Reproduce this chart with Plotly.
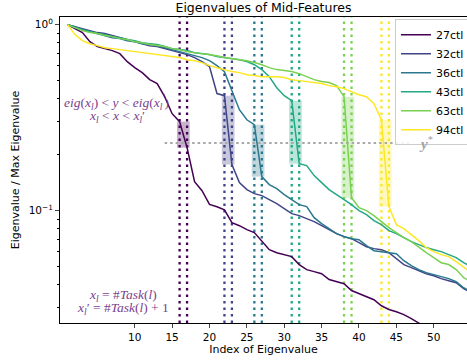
import math
import plotly.graph_objects as go

index = list(range(1, 56))
labels = ["27ctl", "32ctl", "36ctl", "43ctl", "63ctl", "94ctl"]
colors = ["#440154", "#414487", "#2a788e", "#22a884", "#7ad151", "#fde725"]
task_counts = [16, 22, 26, 31, 38, 43]
y_star = 0.231
x_ticks = [10, 15, 20, 25, 30, 35, 40, 45, 50]

ev_27 = [1.0, 0.952, 0.906, 0.810, 0.762, 0.743, 0.725, 0.698, 0.632, 0.587,
         0.552, 0.506, 0.482, 0.410, 0.332, 0.301, 0.218, 0.143, 0.128, 0.108,
         0.105, 0.101, 0.0862, 0.0830, 0.0790, 0.0762, 0.0690, 0.0617, 0.0594, 0.0580,
         0.0566, 0.0513, 0.0482, 0.0470, 0.0458, 0.0426, 0.0415, 0.0405, 0.0372, 0.0358,
         0.0345, 0.0332, 0.0308, 0.0294, 0.0286, 0.0276, 0.0263, 0.0247, 0.0235]
ev_32 = [1.0, 0.976, 0.952, 0.928, 0.906, 0.895, 0.873, 0.851, 0.831, 0.810,
         0.790, 0.771, 0.762, 0.743, 0.725, 0.707, 0.690, 0.665, 0.633, 0.595,
         0.426, 0.415, 0.1768, 0.1415, 0.1297, 0.1234, 0.1204, 0.1146, 0.1090, 0.1025,
         0.0964, 0.0940, 0.0906, 0.0873, 0.0831, 0.0790, 0.0752, 0.0725, 0.0707, 0.0673,
         0.0640, 0.0625, 0.0617, 0.0594, 0.0552, 0.0513, 0.0494, 0.0476, 0.0458, 0.0447,
         0.0431, 0.0420, 0.0410, 0.0381, 0.0362]
ev_36 = [1.0, 0.976, 0.940, 0.917, 0.895, 0.873, 0.851, 0.841, 0.820, 0.810,
         0.790, 0.781, 0.771, 0.752, 0.734, 0.716, 0.698, 0.681, 0.665, 0.640,
         0.602, 0.559, 0.447, 0.349, 0.308, 0.290, 0.1524, 0.1380, 0.1313, 0.1219,
         0.1146, 0.1077, 0.1051, 0.0917, 0.0851, 0.0800, 0.0752, 0.0725, 0.0707, 0.0698,
         0.0648, 0.0609, 0.0602, 0.0594, 0.0587, 0.0538, 0.0506, 0.0482, 0.0464, 0.0453,
         0.0442, 0.0431, 0.0415, 0.0385, 0.0367]
ev_43 = [1.0, 0.964, 0.940, 0.917, 0.895, 0.884, 0.862, 0.851, 0.831, 0.820,
         0.800, 0.790, 0.781, 0.762, 0.743, 0.734, 0.725, 0.707, 0.698, 0.690,
         0.673, 0.665, 0.656, 0.648, 0.633, 0.609, 0.573, 0.525, 0.458, 0.415,
         0.390, 0.179, 0.1746, 0.1543, 0.1415, 0.1297, 0.1219, 0.1146, 0.1077, 0.100,
         0.0952, 0.0884, 0.0841, 0.0781, 0.0752, 0.0716, 0.0681, 0.0657, 0.0633, 0.0617,
         0.0602, 0.0580, 0.0559, 0.0525, 0.0500]
ev_63 = [1.0, 0.964, 0.928, 0.906, 0.895, 0.873, 0.862, 0.841, 0.831, 0.810,
         0.800, 0.781, 0.771, 0.762, 0.743, 0.734, 0.716, 0.707, 0.698, 0.690,
         0.681, 0.665, 0.656, 0.648, 0.640, 0.625, 0.609, 0.587, 0.573, 0.566,
         0.559, 0.545, 0.525, 0.506, 0.494, 0.488, 0.470, 0.410, 0.1174, 0.1038,
         0.100, 0.0940, 0.0873, 0.0810, 0.0762, 0.0716, 0.0681, 0.0633, 0.0594, 0.0559,
         0.0525, 0.0513, 0.0482, 0.0436, 0.0415]
ev_94 = [1.0, 0.884, 0.820, 0.790, 0.771, 0.752, 0.743, 0.734, 0.725, 0.716,
         0.707, 0.698, 0.690, 0.681, 0.673, 0.665, 0.648, 0.640, 0.625, 0.602,
         0.587, 0.573, 0.559, 0.552, 0.538, 0.532, 0.525, 0.525, 0.525, 0.519,
         0.506, 0.500, 0.494, 0.488, 0.482, 0.470, 0.464, 0.453, 0.436, 0.420,
         0.410, 0.376, 0.308, 0.1051, 0.0841, 0.0800, 0.0743, 0.0690, 0.0633, 0.0602,
         0.0580, 0.0566, 0.0532, 0.0494, 0.0464]

series = [ev_27, ev_32, ev_36, ev_43, ev_63, ev_94]


def rgba(hex_color, alpha):
    h = hex_color.lstrip("#")
    r, g, b = int(h[0:2], 16), int(h[2:4], 16), int(h[4:6], 16)
    return f"rgba({r},{g},{b},{alpha})"


FONT = "DejaVu Sans"
fig = go.Figure()

shapes = []
# vertical dotted lines at x_l and x_l' = x_l + 1
for xl, c in zip(task_counts, colors):
    for xv in (xl, xl + 1):
        shapes.append(dict(type="line", xref="x", yref="paper", x0=xv, x1=xv, y0=0, y1=1,
                           line=dict(color=c, width=2.3, dash="2.5px,4px"), layer="below"))

# shaded rectangles between eig(x_l) and eig(x_l')
pad = 0.35
for vals, xl, c in zip(series, task_counts, colors):
    hi = vals[index.index(xl)]
    lo = vals[index.index(xl + 1)]
    x0, x1 = xl - pad, xl + 1 + pad
    fig.add_trace(go.Scatter(x=[x0, x1, x1, x0, x0], y=[lo, lo, hi, hi, lo], mode="lines",
                             fill="toself", fillcolor=rgba(c, 0.3), line=dict(width=0),
                             showlegend=False, hoverinfo="skip"))

# y* horizontal dotted line
fig.add_trace(go.Scatter(x=[14, 47], y=[y_star, y_star], mode="lines",
                         line=dict(color="#a8a8a8", width=2, dash="2.5px,3px"),
                         showlegend=False, hoverinfo="skip"))

for vals, name, c in zip(series, labels, colors):
    fig.add_trace(go.Scatter(x=index[:len(vals)], y=vals, mode="lines", name=name,
                             line=dict(color=c, width=1.5)))

ann_color = "#7b3f8e"
afont = dict(family="Liberation Serif", size=13.5, color=ann_color)
common = dict(xref="paper", yref="paper", showarrow=False, font=afont,
              xanchor="center", yanchor="middle")
annotations = [
    dict(x=0.138, y=0.719,
         text="<i>eig</i>(<i>x<sub>l</sub></i>) &lt; <i>y</i> &lt; <i>eig</i>(<i>x<sub>l</sub><sup>′</sup></i>)",
         **common),
    dict(x=0.140, y=0.674, text="<i>x<sub>l</sub></i> &lt; <i>x</i> &lt; <i>x<sub>l</sub></i>′", **common),
    dict(x=0.155, y=0.091, text="<i>x<sub>l</sub></i> = #<i>Task</i>(<i>l</i>)", **common),
    dict(x=0.155, y=0.047, text="<i>x<sub>l</sub></i>′ = #<i>Task</i>(<i>l</i>) + 1", **common),
    dict(xref="x", yref="y", x=47.8, y=math.log10(y_star), xanchor="left", yanchor="middle",
         showarrow=False, font=dict(family="Liberation Serif", size=15, color="#a0a0a0"),
         text="<i><b>y</b></i><sup>*</sup>"),
]

minor_vals = [0.03, 0.04, 0.05, 0.06, 0.07, 0.08, 0.09, 0.2, 0.3, 0.4, 0.5, 0.6, 0.7, 0.8, 0.9]

fig.update_layout(
    width=467, height=360,
    margin=dict(l=60, r=0, t=17, b=37, autoexpand=False),
    paper_bgcolor="white", plot_bgcolor="white",
    font=dict(family=FONT, size=11, color="black"),
    title=dict(text="Eigenvalues of Mid-Features", x=0.5, xref="paper", xanchor="center",
               y=0.978, yref="container", yanchor="middle",
               font=dict(family=FONT, size=12.5, color="black")),
    shapes=shapes,
    annotations=annotations,
    legend=dict(x=0.823, y=0.993, xanchor="left", yanchor="top",
                bgcolor="rgba(255,255,255,0.85)", bordercolor="#cccccc", borderwidth=1,
                font=dict(family=FONT, size=11), itemwidth=30),
    xaxis=dict(range=[0, 54.45], tickvals=x_ticks, ticks="outside", ticklen=4,
               showgrid=False, zeroline=False, showline=True, mirror=True,
               linecolor="black", linewidth=1, tickfont=dict(size=10.5),
               title=dict(text="Index of Eigenvalue", font=dict(size=11), standoff=3)),
    yaxis=dict(type="log", range=[-1.604, 0.041], tickvals=[0.1, 1],
               ticktext=["10<sup>−1</sup>", "10<sup>0</sup>"], ticks="outside", ticklen=4,
               minor=dict(tickvals=minor_vals, ticks="outside", ticklen=2, tickcolor="black"),
               showgrid=False, zeroline=False, showline=True, mirror=True,
               linecolor="black", linewidth=1, tickfont=dict(size=10.5),
               title=dict(text="Eigenvalue / Max Eigenvalue", font=dict(size=11), standoff=6)),
)

fig.write_html("out.html", config={"displayModeBar": False},
               post_script="document.body.style.margin='0';")
